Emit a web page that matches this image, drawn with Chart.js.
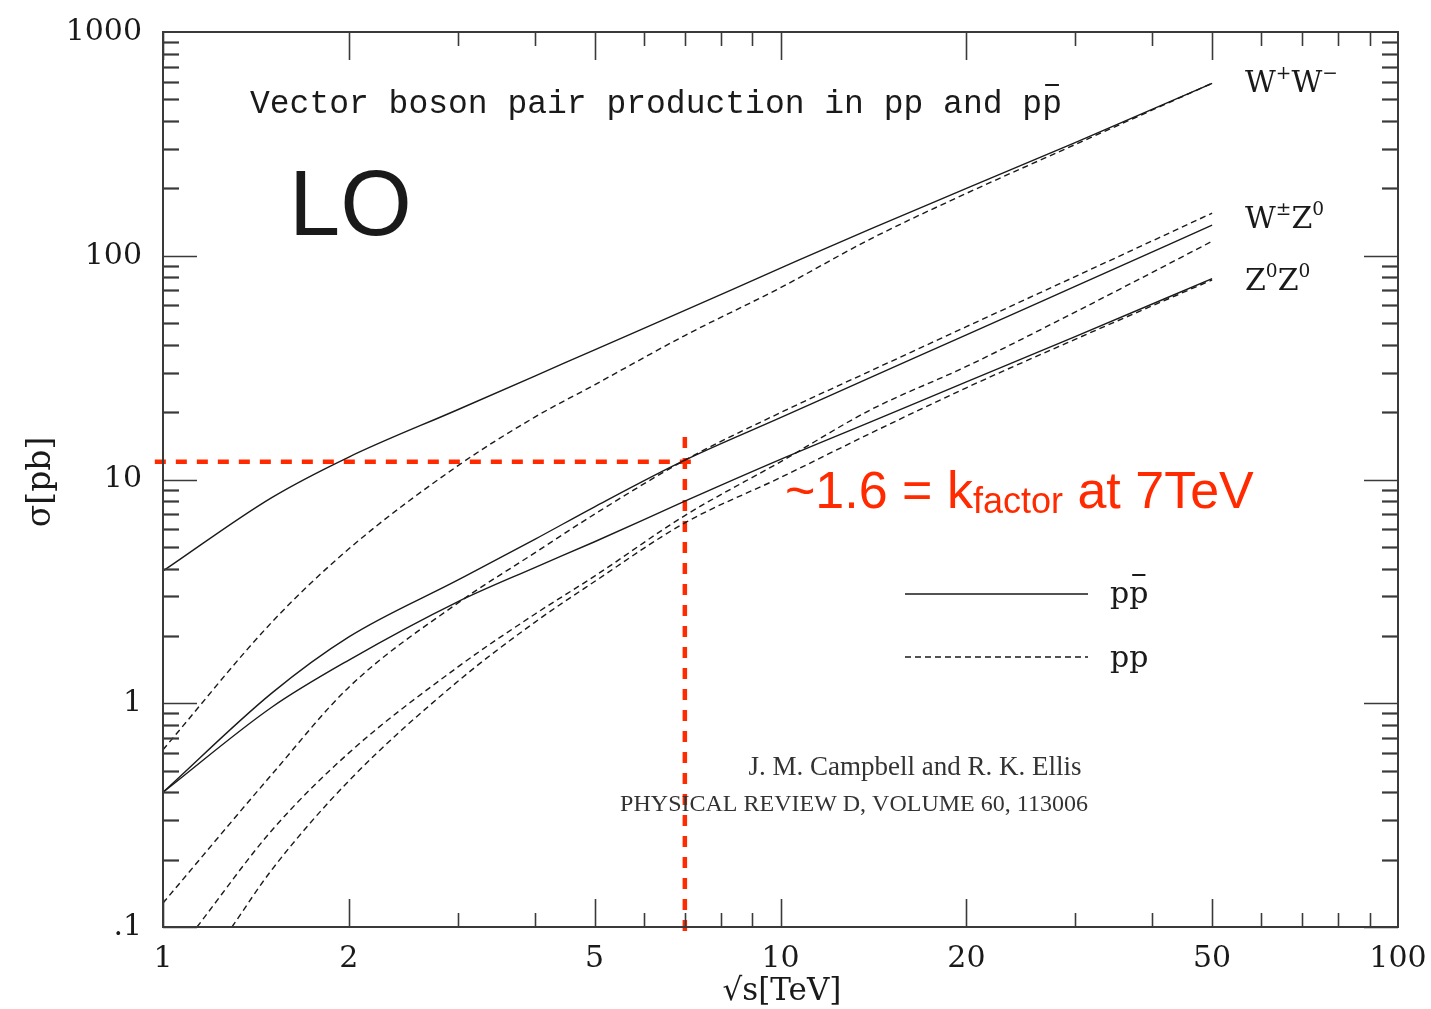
<!DOCTYPE html>
<html>
<head>
<meta charset="utf-8">
<script src="https://cdn.jsdelivr.net/npm/chart.js@4.4.1/dist/chart.umd.min.js"></script>
<style>
  html, body { margin: 0; padding: 0; background: #fff; }
</style>
</head>
<body>
<canvas id="chart" width="1431" height="1009"></canvas>
<script>
// sqrt(s) in TeV, shared by every curve
const energies = [1, 1.135, 1.293, 1.5, 2, 3, 4, 5, 7, 10, 14, 20, 30, 50];

// LO cross sections in pb (null = curve not drawn there)
const wwPpbar = [3.9, null, null, 8.3, 12.6, 20.5, 29, 38, 57, 88, 132, 200, 320, 590];
const wwPp    = [0.62, null, null, 2.3, 4.9, 11.5, 19, 26.5, 44, 72, 119, 190, 314, 590];
const wzPpbar = [0.40, null, null, 1.11, 1.98, 3.55, 5.4, 7.55, 12.2, 18.9, 28.6, 44.3, 73, 137];
const wpzPp   = [0.128, null, null, 0.48, 1.18, 2.8, 4.7, 7.0, 12.2, 19.9, 30.6, 48.2, 80.7, 155];
const wmzPp   = [null, 0.1, null, 0.27, 0.6, 1.45, 2.5, 3.7, 6.9, 12, 20.5, 32, 56, 116];
const zzPpbar = [0.40, null, null, 0.96, 1.56, 2.84, 4.04, 5.27, 8.0, 12.3, 18.1, 27.3, 43.5, 79];
const zzPp    = [null, null, 0.1, 0.18, 0.45, 1.25, 2.3, 3.5, 6.4, 10.2, 16.1, 25.7, 42.3, 78];

// red guide lines: k-factor read at 7 TeV
const guideX = [0.97, 7.42];
const guideY = [12, 12];
const markX = [7, 7];
const markY = [15.5, 0.09];

const xTicks = [1, 2, 5, 10, 20, 50, 100];
const yTicks = [0.1, 1, 10, 100, 1000];
const yTickLabels = ['.1', '1', '10', '100', '1000'];

const RED = '#ff2a00';
const INK = '#1a1a1a';

function series(vals) {
  return energies.map((e, i) => ({ x: e, y: vals[i] })).filter(p => p.y !== null);
}
function pairs(xs, ys) {
  return xs.map((v, i) => ({ x: v, y: ys[i] }));
}

function curve(vals, dashed) {
  return {
    data: series(vals),
    borderColor: INK,
    borderWidth: 1.4,
    borderDash: dashed ? [6, 4] : [],
    cubicInterpolationMode: 'monotone'
  };
}
function guide(data) {
  return { data, borderColor: RED, borderWidth: 4.5, borderDash: [11, 10], clip: false, tension: 0 };
}

// inward ticks on all four sides + frame
const frame = {
  id: 'frame',
  afterDraw(chart) {
    const { ctx, chartArea: a, scales: { x, y } } = chart;
    ctx.save();
    ctx.strokeStyle = '#3a3a3a';
    const seg = (x1, y1, x2, y2) => { ctx.beginPath(); ctx.moveTo(x1, y1); ctx.lineTo(x2, y2); ctx.stroke(); };
    ctx.lineWidth = 1.6;
    for (let e = 0; e < 2; e++) {
      for (let m = 1; m < 10; m++) {
        const px = Math.round(x.getPixelForValue(m * Math.pow(10, e))) + 0.5;
        const len = (m === 1 || m === 2 || m === 5) ? 28 : 14;
        seg(px, a.bottom, px, a.bottom - len);
        seg(px, a.top, px, a.top + len);
      }
    }
    for (let e = -1; e < 3; e++) {
      for (let m = 1; m < 10; m++) {
        const py = Math.round(y.getPixelForValue(m * Math.pow(10, e))) + 0.5;
        const len = m === 1 ? 34 : 16;
        ctx.lineWidth = m === 1 ? 1.6 : 2.2;
        seg(a.left, py, a.left + len, py);
        seg(a.right, py, a.right - len, py);
      }
    }
    ctx.lineWidth = 2;
    ctx.strokeRect(a.left, a.top, a.right - a.left, a.bottom - a.top);
    ctx.restore();
  }
};

function richText(ctx, x, y, parts, size) {
  for (const p of parts) {
    const s = p.sup ? size * 0.62 : size;
    ctx.font = s + 'px "DejaVu Serif"';
    ctx.fillText(p.t, x, p.sup ? y - size * 0.45 : y);
    x += ctx.measureText(p.t).width;
  }
}

const notes = {
  id: 'notes',
  afterDraw(chart) {
    const ctx = chart.ctx;
    ctx.save();
    ctx.fillStyle = INK;
    ctx.textBaseline = 'alphabetic';

    // title
    const title = 'Vector boson pair production in pp and pp';
    ctx.font = '33px "Liberation Mono"';
    ctx.fillText(title, 250, 113);
    const before = ctx.measureText(title.slice(0, -1)).width;
    const pw = ctx.measureText('p').width;
    ctx.fillRect(250 + before + 3, 84, pw - 6, 2);

    ctx.font = '92px "Liberation Sans"';
    ctx.fillText('LO', 289, 235);

    // process labels
    richText(ctx, 1245, 92, [{ t: 'W' }, { t: '+', sup: true }, { t: 'W' }, { t: '\u2212', sup: true }], 30);
    richText(ctx, 1245, 228, [{ t: 'W' }, { t: '\u00b1', sup: true }, { t: 'Z' }, { t: '0', sup: true }], 30);
    richText(ctx, 1245, 290, [{ t: 'Z' }, { t: '0', sup: true }, { t: 'Z' }, { t: '0', sup: true }], 30);

    // legend
    ctx.strokeStyle = INK;
    ctx.lineWidth = 1.4;
    ctx.beginPath(); ctx.moveTo(905, 594); ctx.lineTo(1088, 594); ctx.stroke();
    ctx.setLineDash([6, 4]);
    ctx.beginPath(); ctx.moveTo(905, 657); ctx.lineTo(1088, 657); ctx.stroke();
    ctx.setLineDash([]);
    ctx.font = '30px "DejaVu Serif"';
    ctx.fillText('pp', 1110, 603);
    const lp = ctx.measureText('p').width;
    ctx.fillRect(1110 + lp + 3, 574, lp - 6, 2);
    ctx.fillText('pp', 1110, 667);

    // citation
    ctx.fillStyle = '#333';
    ctx.textAlign = 'center';
    ctx.font = '27px "Liberation Serif"';
    ctx.fillText('J. M. Campbell and R. K. Ellis', 915, 775);
    ctx.font = '24px "Liberation Serif"';
    ctx.fillText('PHYSICAL REVIEW D, VOLUME 60, 113006', 854, 811);

    // axis titles
    ctx.fillStyle = INK;
    ctx.font = '31px "DejaVu Serif"';
    ctx.fillText('\u221as[TeV]', 782, 1000);
    ctx.save();
    ctx.translate(50, 482);
    ctx.rotate(-Math.PI / 2);
    ctx.font = '33px "DejaVu Serif"';
    ctx.fillText('\u03c3[pb]', 0, 0);
    ctx.restore();

    // k-factor note
    ctx.textAlign = 'left';
    ctx.fillStyle = RED;
    let x = 785;
    ctx.font = '52px "Liberation Sans"';
    ctx.fillText('~1.6 = k', x, 508);
    x += ctx.measureText('~1.6 = k').width;
    ctx.font = '36px "Liberation Sans"';
    ctx.fillText('factor', x, 513);
    x += ctx.measureText('factor').width;
    ctx.font = '52px "Liberation Sans"';
    ctx.fillText(' at 7TeV', x, 508);
    ctx.restore();
  }
};

new Chart(document.getElementById('chart'), {
  type: 'line',
  data: {
    datasets: [
      curve(wwPpbar, false),
      curve(wwPp, true),
      curve(wzPpbar, false),
      curve(wpzPp, true),
      curve(wmzPp, true),
      curve(zzPpbar, false),
      curve(zzPp, true),
      guide(pairs(guideX, guideY)),
      guide(pairs(markX, markY))
    ]
  },
  options: {
    responsive: false,
    animation: false,
    layout: { padding: { top: 32, right: 33, left: 0, bottom: 0 } },
    plugins: { legend: { display: false }, tooltip: { enabled: false } },
    elements: { point: { radius: 0 } },
    scales: {
      x: {
        type: 'logarithmic',
        min: 1,
        max: 100,
        grid: { display: false },
        border: { display: false },
        afterBuildTicks: s => { s.ticks = xTicks.map(v => ({ value: v })); },
        afterFit: s => { s.height = 82; s.paddingLeft = 0; s.paddingRight = 0; },
        ticks: {
          autoSkip: false, maxRotation: 0, padding: 6, color: INK,
          font: { family: 'DejaVu Serif', size: 30 },
          callback: v => String(v)
        }
      },
      y: {
        type: 'logarithmic',
        min: 0.1,
        max: 1000,
        grid: { display: false },
        border: { display: false },
        afterBuildTicks: s => { s.ticks = yTicks.map(v => ({ value: v })); },
        afterFit: s => { s.width = 163; s.paddingTop = 0; s.paddingBottom = 0; },
        ticks: {
          autoSkip: false, padding: 13, color: INK,
          font: { family: 'DejaVu Serif', size: 30 },
          callback: v => yTickLabels[yTicks.indexOf(v)]
        }
      }
    }
  },
  plugins: [frame, notes]
});
</script>
</body>
</html>
